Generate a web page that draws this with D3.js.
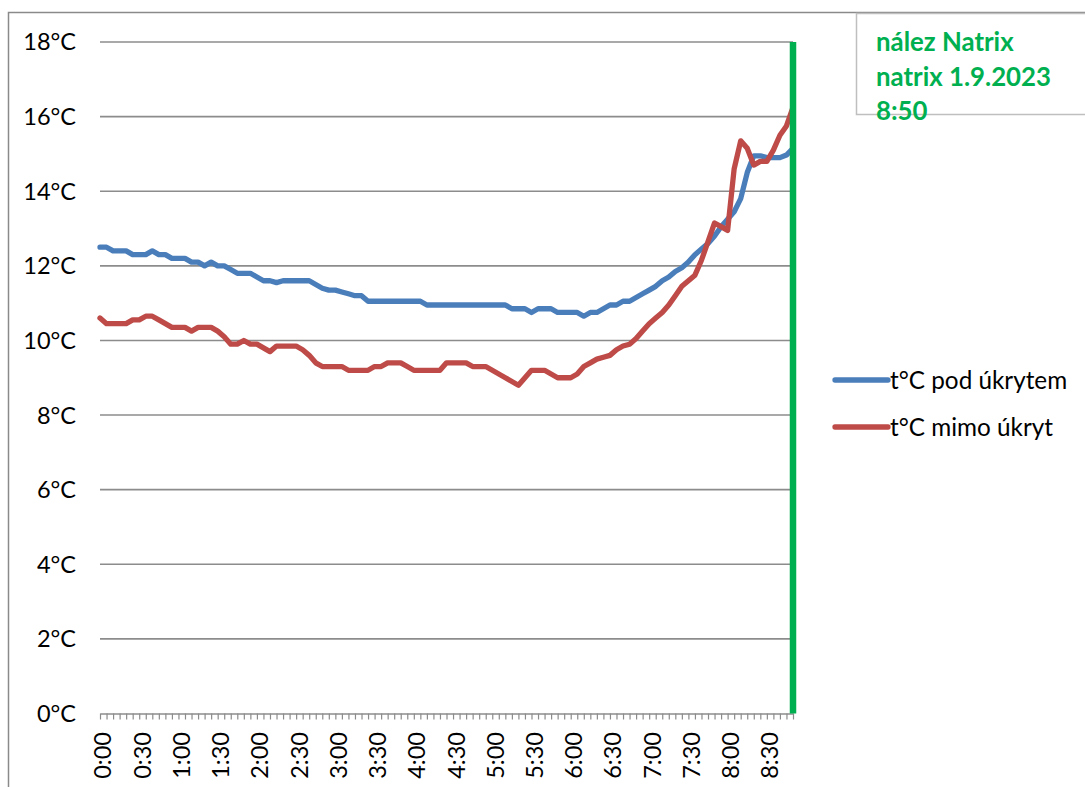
<!DOCTYPE html>
<html>
<head>
<meta charset="utf-8">
<script src="https://cdn.jsdelivr.net/npm/d3@7"></script>
<style>
  html, body { margin: 0; padding: 0; background: #fff; }
  svg { display: block; font-family: Lato, "Noto Sans", sans-serif; }
</style>
</head>
<body>
<svg id="chart" width="1085" height="787"></svg>
<script>
// Measurement times (every 5 minutes)
const times = [
  "0:00","0:05","0:10","0:15","0:20","0:25","0:30","0:35","0:40","0:45","0:50","0:55",
  "1:00","1:05","1:10","1:15","1:20","1:25","1:30","1:35","1:40","1:45","1:50","1:55",
  "2:00","2:05","2:10","2:15","2:20","2:25","2:30","2:35","2:40","2:45","2:50","2:55",
  "3:00","3:05","3:10","3:15","3:20","3:25","3:30","3:35","3:40","3:45","3:50","3:55",
  "4:00","4:05","4:10","4:15","4:20","4:25","4:30","4:35","4:40","4:45","4:50","4:55",
  "5:00","5:05","5:10","5:15","5:20","5:25","5:30","5:35","5:40","5:45","5:50","5:55",
  "6:00","6:05","6:10","6:15","6:20","6:25","6:30","6:35","6:40","6:45","6:50","6:55",
  "7:00","7:05","7:10","7:15","7:20","7:25","7:30","7:35","7:40","7:45","7:50","7:55",
  "8:00","8:05","8:10","8:15","8:20","8:25","8:30","8:35","8:40","8:45","8:50"
];

// Temperature under shelter (°C)
const podUkrytem = [
  12.5, 12.5, 12.4, 12.4, 12.4, 12.3, 12.3, 12.3, 12.4, 12.3, 12.3, 12.2,
  12.2, 12.2, 12.1, 12.1, 12.0, 12.1, 12.0, 12.0, 11.9, 11.8, 11.8, 11.8,
  11.7, 11.6, 11.6, 11.55, 11.6, 11.6, 11.6, 11.6, 11.6, 11.5, 11.4, 11.35,
  11.35, 11.3, 11.25, 11.2, 11.2, 11.05, 11.05, 11.05, 11.05, 11.05, 11.05, 11.05,
  11.05, 11.05, 10.95, 10.95, 10.95, 10.95, 10.95, 10.95, 10.95, 10.95, 10.95, 10.95,
  10.95, 10.95, 10.95, 10.85, 10.85, 10.85, 10.75, 10.85, 10.85, 10.85, 10.75, 10.75,
  10.75, 10.75, 10.65, 10.75, 10.75, 10.85, 10.95, 10.95, 11.05, 11.05, 11.15, 11.25,
  11.35, 11.45, 11.6, 11.7, 11.85, 11.95, 12.1, 12.3, 12.45, 12.6, 12.8, 13.05,
  13.25, 13.45, 13.8, 14.5, 14.95, 14.95, 14.9, 14.9, 14.9, 14.97, 15.15
];

// Temperature outside shelter (°C)
const mimoUkryt = [
  10.6, 10.45, 10.45, 10.45, 10.45, 10.55, 10.55, 10.65, 10.65, 10.55, 10.45, 10.35,
  10.35, 10.35, 10.25, 10.35, 10.35, 10.35, 10.25, 10.1, 9.9, 9.9, 10.0, 9.9,
  9.9, 9.8, 9.7, 9.85, 9.85, 9.85, 9.85, 9.75, 9.6, 9.4, 9.3, 9.3,
  9.3, 9.3, 9.2, 9.2, 9.2, 9.2, 9.3, 9.3, 9.4, 9.4, 9.4, 9.3,
  9.2, 9.2, 9.2, 9.2, 9.2, 9.4, 9.4, 9.4, 9.4, 9.3, 9.3, 9.3,
  9.2, 9.1, 9.0, 8.9, 8.8, 9.0, 9.2, 9.2, 9.2, 9.1, 9.0, 9.0,
  9.0, 9.1, 9.3, 9.4, 9.5, 9.55, 9.6, 9.75, 9.85, 9.9, 10.05, 10.25,
  10.45, 10.6, 10.75, 10.95, 11.2, 11.45, 11.6, 11.75, 12.15, 12.65, 13.15, 13.05,
  12.95, 14.6, 15.35, 15.15, 14.7, 14.8, 14.8, 15.1, 15.5, 15.75, 16.25
];

const xTickLabels = ["0:00","0:30","1:00","1:30","2:00","2:30","3:00","3:30","4:00",
                     "4:30","5:00","5:30","6:00","6:30","7:00","7:30","8:00","8:30"];
const yTicks = [0, 2, 4, 6, 8, 10, 12, 14, 16, 18];

const seriesNames = ["t°C pod úkrytem", "t°C mimo úkryt"];
const seriesColors = ["#4A7EBB", "#BE4B48"];
const markerTime = "8:50";
const noteLines = ["nález Natrix", "natrix 1.9.2023", "8:50"];

const svg = d3.select("#chart");

// Chart area frame
svg.append("rect")
  .attr("x", 8.5).attr("y", 12.5)
  .attr("width", 1200).attr("height", 1000)
  .attr("fill", "#fff")
  .attr("stroke", "#8a8a8a").attr("stroke-width", 1.5);

const x = d3.scalePoint().domain(times).range([100, 793]);
const y = d3.scaleLinear().domain([0, 18]).range([713.5, 42]);

// Horizontal gridlines
svg.append("g")
  .selectAll("line")
  .data(yTicks.filter(d => d > 0))
  .join("line")
  .attr("x1", 100).attr("x2", 793)
  .attr("y1", d => y(d)).attr("y2", d => y(d))
  .attr("stroke", "#8c8c8c").attr("stroke-width", 1.6);

// Y tick labels
svg.append("g")
  .selectAll("text")
  .data(yTicks)
  .join("text")
  .attr("x", 76)
  .attr("y", d => y(d))
  .attr("dy", "0.36em")
  .attr("text-anchor", "end")
  .attr("font-size", 23.5)
  .attr("fill", "#000")
  .text(d => d + "°C");

// X axis with a tick at every measurement
const xAxis = d3.axisBottom(x)
  .tickSize(6)
  .tickSizeOuter(0)
  .tickFormat("");
const gx = svg.append("g")
  .attr("transform", `translate(0,${y(0)})`)
  .call(xAxis);
gx.select(".domain").attr("stroke", "#8c8c8c").attr("stroke-width", 1.6);
gx.selectAll(".tick line").attr("stroke", "#8c8c8c").attr("stroke-width", 1.2);

// Rotated time labels every 30 minutes
svg.append("g")
  .selectAll("text")
  .data(xTickLabels)
  .join("text")
  .attr("transform", d => `translate(${x(d) + 3},732) rotate(-90)`)
  .attr("dy", "0.36em")
  .attr("text-anchor", "end")
  .attr("font-size", 23.5)
  .attr("fill", "#000")
  .text(d => d);

// Data lines
const line = d3.line()
  .x((d, i) => x(times[i]))
  .y(d => y(d));

[podUkrytem, mimoUkryt].forEach((vals, k) => {
  svg.append("path")
    .datum(vals)
    .attr("fill", "none")
    .attr("stroke", seriesColors[k])
    .attr("stroke-width", 5.3)
    .attr("stroke-linejoin", "round")
    .attr("stroke-linecap", "round")
    .attr("d", line);
});

// Vertical marker at time of the find
svg.append("line")
  .attr("x1", x(markerTime)).attr("x2", x(markerTime))
  .attr("y1", y(18)).attr("y2", y(0))
  .attr("stroke", "#00B050").attr("stroke-width", 6.5);

// Note box
svg.append("rect")
  .attr("x", 856.5).attr("y", 13.5)
  .attr("width", 300).attr("height", 101)
  .attr("fill", "#fff")
  .attr("stroke", "#bfbfbf").attr("stroke-width", 1.5);

svg.append("g")
  .selectAll("text")
  .data(noteLines)
  .join("text")
  .attr("x", 876)
  .attr("y", (d, i) => 51 + i * 34.5)
  .attr("font-size", 25.8)
  .attr("font-weight", "bold")
  .attr("fill", "#00B050")
  .text(d => d);

// Legend
const legend = svg.append("g");
seriesNames.forEach((name, k) => {
  const ly = 380 + k * 47;
  legend.append("line")
    .attr("x1", 835).attr("x2", 888)
    .attr("y1", ly).attr("y2", ly)
    .attr("stroke", seriesColors[k])
    .attr("stroke-width", 5.3)
    .attr("stroke-linecap", "round");
  legend.append("text")
    .attr("x", 890).attr("y", ly)
    .attr("dy", "0.36em")
    .attr("font-size", 24.3)
    .attr("fill", "#000")
    .text(name);
});
</script>
</body>
</html>
